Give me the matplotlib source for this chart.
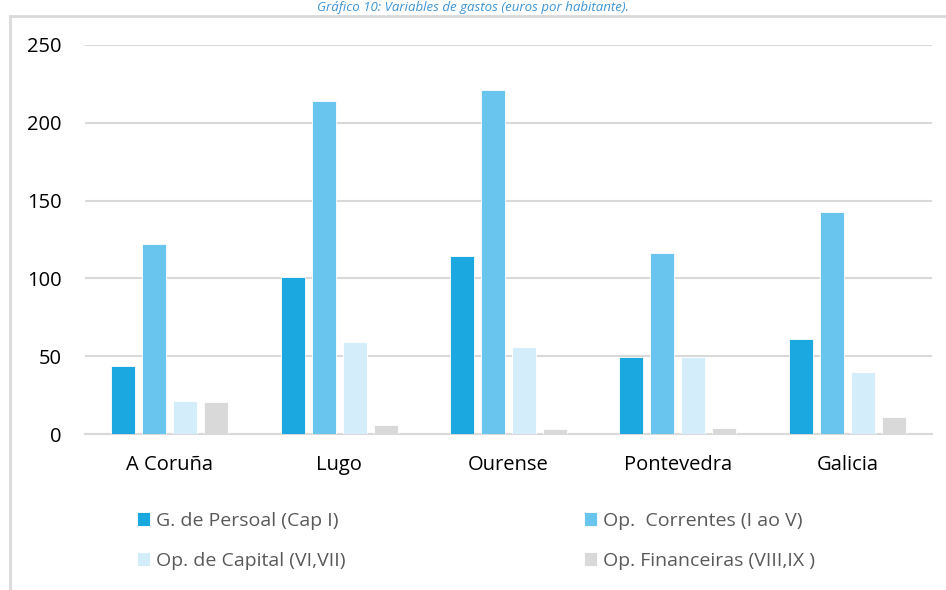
import numpy as np
import matplotlib.pyplot as plt
from matplotlib.patches import Rectangle

plt.rcParams['font.family'] = ['Open Sans', 'DejaVu Sans']

# Data
categories = ['A Coruña', 'Lugo', 'Ourense', 'Pontevedra', 'Galicia']
series_names = ['G. de Persoal (Cap I)', 'Op.  Correntes (I ao V)',
                'Op. de Capital (VI,VII)', 'Op. Financeiras (VIII,IX )']
persoal = [44, 101, 114.5, 49.5, 61]
correntes = [122, 214, 221, 116.5, 142.5]
capital = [21, 59, 56, 49.5, 40]
financeiras = [20.5, 6, 3, 4, 11]
yticks = [0, 50, 100, 150, 200, 250]

colors = ['#1BA8E0', '#6AC5EE', '#D3EDFB', '#D9D9D9']

fig = plt.figure(figsize=(9.46, 5.9), dpi=100)
ax = fig.add_axes([85 / 946, 1 - 434 / 590, (932 - 85) / 946, 389 / 590])

x = np.arange(len(categories))
width = 0.142
pitch = 0.183
all_series = [persoal, correntes, capital, financeiras]
for i, (vals, name, c) in enumerate(zip(all_series, series_names, colors)):
    ax.bar(x + (i - 1.5) * pitch, vals, width, color=c, label=name,
           edgecolor='white', linewidth=0.6, zorder=3)

ax.set_xlim(-0.5, len(categories) - 0.5)
ax.set_ylim(0, 250)
ax.set_yticks(yticks)
ax.set_yticklabels([str(t) for t in yticks], fontsize=14.5, color='black')
ax.set_xticks(x)
ax.set_xticklabels(categories, fontsize=14.5, color='black')
ax.tick_params(axis='x', length=0, pad=15)
ax.tick_params(axis='y', length=0, pad=17)
ax.grid(axis='y', color='#D9D9D9', linewidth=1.5, zorder=0)
for s in ['top', 'right', 'left']:
    ax.spines[s].set_visible(False)
ax.spines['bottom'].set_color('#D9D9D9')
ax.spines['bottom'].set_linewidth(1.5)

# legend, row-wise order like the original
handles, labels = ax.get_legend_handles_labels()
order = [0, 2, 1, 3]
fig.legend([handles[i] for i in order], [labels[i] for i in order],
           loc='upper left', bbox_to_anchor=(127 / 946, 1 - 502 / 590),
           ncol=2, frameon=False, fontsize=14, labelcolor='#595959',
           handlelength=0.7, handleheight=0.7, handletextpad=0.3,
           columnspacing=12.25, labelspacing=1.15, borderpad=0)

# outer border of the chart box
fig.patches.append(Rectangle((10 / 946, -0.1), 1.0, 1 - 16 / 590 + 0.1,
                             transform=fig.transFigure, fill=False,
                             edgecolor='#D9D9D9', linewidth=2))

fig.text(0.5, 1 - 0.5 / 590, 'Gráfico 10: Variables de gastos (euros por habitante).',
         ha='center', va='top', fontsize=9.5, style='italic', color='#3E95D6')

plt.savefig('out.png', dpi=100)
